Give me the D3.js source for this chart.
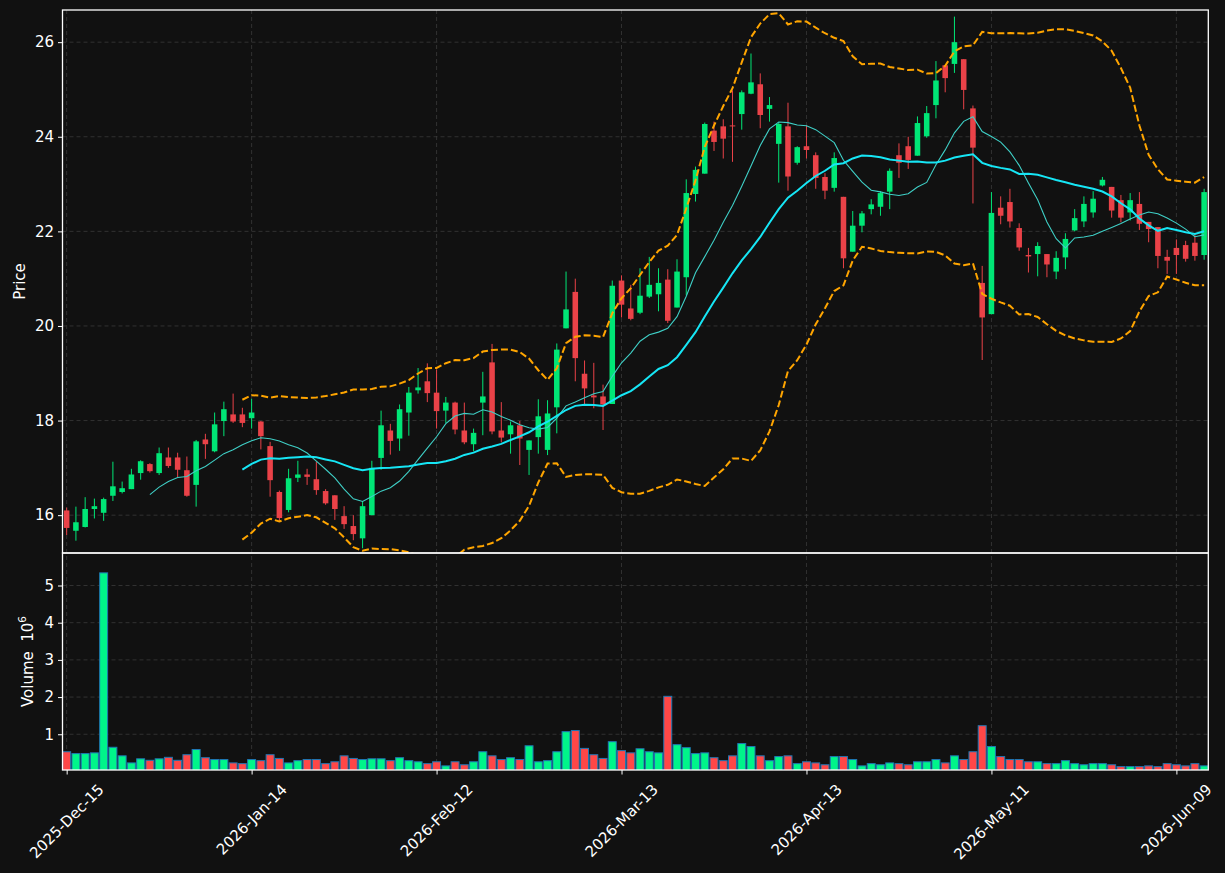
<!DOCTYPE html>
<html>
<head>
<meta charset="utf-8">
<script src="https://cdn.jsdelivr.net/npm/d3@7"></script>
<style>
  body { margin: 0; background: #111111; }
  svg { display: block; font-family: "DejaVu Sans", sans-serif; }
</style>
</head>
<body>
<div id="chart"></div>
<script>
// x tick labels, one every 20 sessions
const tickLabels = ['2025-Dec-15', '2026-Jan-14', '2026-Feb-12', '2026-Mar-13', '2026-Apr-13', '2026-May-11', '2026-Jun-09'];
const tickStep = 20;

const openP = [16.10,15.67,15.75,16.13,16.05,16.41,16.49,16.55,16.89,17.08,16.89,17.22,17.22,16.95,16.64,17.60,17.35,17.99,18.13,18.13,
  18.05,17.98,17.46,16.49,16.11,16.79,16.86,16.76,16.51,16.42,15.98,15.77,15.51,16.00,17.21,17.79,17.62,18.17,18.64,18.83,
  18.59,18.21,18.38,17.79,17.50,18.38,19.23,17.79,17.71,17.90,17.38,17.65,17.38,18.28,19.95,20.72,18.99,18.53,18.51,18.35,
  20.96,20.37,20.28,20.62,20.67,20.98,20.39,21.03,22.79,23.22,24.13,24.22,24.24,24.48,24.91,25.11,24.59,23.85,24.22,23.45,
  23.80,23.61,23.15,22.92,22.73,21.57,22.12,22.47,22.52,22.84,23.61,23.80,23.60,24.01,24.67,25.51,25.54,25.64,24.60,20.91,
  20.25,22.50,22.62,22.07,21.50,21.52,21.52,21.15,21.45,22.02,22.21,22.40,22.97,22.94,22.66,22.40,22.58,22.20,22.09,21.46,
  21.65,21.71,21.76,21.50];
const highP = [16.16,16.18,16.38,16.35,16.37,17.13,16.71,16.98,17.16,17.10,17.43,17.43,17.32,17.24,17.59,17.72,18.17,18.40,18.57,18.27,
  18.46,17.99,17.55,16.52,16.98,17.15,16.98,17.13,16.55,16.42,16.19,16.00,16.30,17.15,18.21,17.93,18.34,18.71,19.11,19.21,
  19.08,18.50,18.40,18.38,17.83,19.03,19.62,18.39,17.98,17.99,17.58,18.45,18.43,19.63,21.15,21.00,19.27,19.22,18.76,20.96,
  21.07,20.87,21.22,21.46,21.22,21.20,21.41,23.10,23.37,24.30,24.32,24.37,24.98,24.98,25.76,25.34,24.84,24.30,24.72,23.80,
  24.24,23.67,23.23,23.67,22.73,22.43,22.43,22.68,22.85,23.33,23.86,24.00,24.43,24.65,25.60,25.51,26.54,25.64,24.66,21.27,
  22.83,22.74,22.90,22.17,21.65,21.77,21.52,21.58,21.96,22.47,22.74,22.85,23.15,22.94,22.77,22.81,22.83,22.20,22.09,21.61,
  21.83,21.80,21.93,22.90];
const lowP = [15.58,15.46,15.74,15.93,15.88,16.30,16.46,16.55,16.75,16.90,16.85,17.00,16.80,16.39,16.18,17.19,17.33,17.67,17.95,17.86,
  17.83,17.39,16.39,15.87,16.06,16.70,16.64,16.43,16.22,15.90,15.71,15.47,15.30,16.00,16.96,17.28,17.36,17.68,18.57,18.39,
  17.83,17.95,17.71,17.50,17.35,17.69,17.71,17.54,17.30,17.06,16.85,17.30,17.27,17.73,19.95,18.83,18.34,18.26,17.80,18.35,
  20.18,20.12,20.25,20.59,20.31,20.06,20.39,20.65,22.63,23.22,23.70,23.54,23.47,24.15,24.90,24.18,24.32,23.03,22.86,23.41,
  23.54,22.90,22.68,22.84,21.22,21.57,21.98,22.36,22.33,22.47,23.13,23.32,23.60,23.98,24.39,24.94,25.35,24.58,22.59,19.28,
  20.25,22.15,22.08,21.59,21.13,21.05,21.03,20.99,21.20,22.00,22.09,22.29,22.95,22.29,22.19,22.23,22.03,21.77,21.22,21.10,
  21.10,21.36,21.38,21.40];
const closeP = [15.73,15.85,16.13,16.19,16.34,16.61,16.57,16.86,17.14,16.93,17.31,17.04,16.96,16.41,17.56,17.50,17.92,18.24,17.98,17.95,
  18.17,17.67,16.74,15.94,16.78,16.86,16.81,16.53,16.25,16.13,15.81,15.60,16.19,17.00,17.90,17.57,18.24,18.59,18.70,18.58,
  18.20,18.38,17.81,17.54,17.74,18.51,17.77,17.64,17.90,17.62,17.58,18.09,18.15,19.50,20.35,19.32,18.68,18.49,18.34,20.85,
  20.45,20.15,20.64,20.87,20.91,20.11,21.15,22.81,23.30,24.27,23.89,23.96,24.22,24.94,25.15,24.46,24.67,24.27,23.16,23.78,
  23.72,23.13,22.86,23.55,21.43,22.12,22.38,22.57,22.81,23.28,23.45,23.51,24.29,24.50,25.19,25.24,26.00,24.99,23.77,20.18,
  22.39,22.33,22.21,21.66,21.47,21.69,21.30,21.44,21.84,22.28,22.58,22.69,23.09,22.44,22.29,22.66,22.16,22.05,21.48,21.38,
  21.50,21.42,21.48,22.83];
// volume in millions
const volume = [0.53,0.48,0.48,0.50,5.34,0.65,0.42,0.23,0.34,0.30,0.34,0.38,0.30,0.45,0.59,0.37,0.32,0.32,0.23,0.21,
  0.32,0.29,0.45,0.35,0.23,0.29,0.32,0.32,0.21,0.26,0.42,0.35,0.32,0.34,0.34,0.29,0.37,0.29,0.26,0.21,
  0.26,0.15,0.26,0.18,0.26,0.53,0.42,0.32,0.37,0.32,0.69,0.26,0.29,0.53,1.07,1.10,0.62,0.45,0.35,0.80,
  0.56,0.50,0.61,0.53,0.50,2.02,0.72,0.64,0.48,0.50,0.37,0.29,0.42,0.75,0.67,0.42,0.29,0.40,0.42,0.21,
  0.26,0.23,0.18,0.40,0.40,0.32,0.15,0.21,0.18,0.23,0.21,0.18,0.26,0.26,0.32,0.23,0.42,0.32,0.53,1.23,
  0.67,0.40,0.32,0.32,0.26,0.26,0.21,0.21,0.29,0.21,0.18,0.21,0.21,0.18,0.13,0.13,0.13,0.15,0.13,0.21,
  0.18,0.15,0.21,0.15];

const priceTicks = [16, 18, 20, 22, 24, 26];
const volTicks = [1, 2, 3, 4, 5];

var width = 1225, height = 873;
var plotLeft = 62.5, plotRight = 1208.3;
var priceTop = 10, priceBottom = 553;
var volTop = 553, volBottom = 770;
var fontSize = 15;

var upColor = "#00e676", downColor = "#ea4248";
var volUp = "#00f58a", volDown = "#ff4747";
var gridColor = "#3a3a3a";

var n = closeP.length;
var idx = d3.range(n);

// rolling mean / std of the closes
function rolling(len) {
  return idx.map(function(i) {
    if (i < len - 1) return null;
    var w = closeP.slice(i - len + 1, i + 1);
    return { i: i, mean: d3.mean(w), sd: d3.deviation(w) };
  }).filter(d => d);
}
var ma10 = rolling(10);
var ma20 = rolling(20);

var svg = d3.select("#chart").append("svg")
  .attr("width", width)
  .attr("height", height);

svg.append("rect").attr("width", width).attr("height", height).attr("fill", "#111111");

var x = d3.scaleLinear().domain([-0.45, n - 0.55]).range([plotLeft, plotRight]);
var y = d3.scaleLinear().domain([15.2, 26.68]).range([priceBottom, priceTop]);
var yv = d3.scaleLinear().domain([0.3 * d3.min(volume), 1.1 * d3.max(volume)]).range([volBottom, volTop]);

var step = x(1) - x(0);

var defs = svg.append("defs");
defs.append("clipPath").attr("id", "clipPrice")
  .append("rect").attr("x", plotLeft).attr("y", priceTop)
  .attr("width", plotRight - plotLeft).attr("height", priceBottom - priceTop);
defs.append("clipPath").attr("id", "clipVol")
  .append("rect").attr("x", plotLeft).attr("y", volTop)
  .attr("width", plotRight - plotLeft).attr("height", volBottom - volTop);

var tickIdx = tickLabels.map((d, k) => k * tickStep);

// grid
var grid = svg.append("g").attr("stroke", gridColor).attr("stroke-width", 0.8).attr("stroke-dasharray", "4,3");
grid.selectAll(".vg").data(tickIdx).enter().append("line")
  .attr("x1", d => x(d)).attr("x2", d => x(d))
  .attr("y1", priceTop).attr("y2", volBottom);
grid.selectAll(".hp").data(priceTicks).enter().append("line")
  .attr("x1", plotLeft).attr("x2", plotRight)
  .attr("y1", d => y(d)).attr("y2", d => y(d));
grid.selectAll(".hv").data(volTicks).enter().append("line")
  .attr("x1", plotLeft).attr("x2", plotRight)
  .attr("y1", d => yv(d)).attr("y2", d => yv(d));

// candles
var pg = svg.append("g").attr("clip-path", "url(#clipPrice)");
var candles = pg.selectAll(".candle").data(idx).enter().append("g");
candles.append("line")
  .attr("x1", i => x(i)).attr("x2", i => x(i))
  .attr("y1", i => y(highP[i])).attr("y2", i => y(lowP[i]))
  .attr("stroke", i => closeP[i] >= openP[i] ? upColor : downColor)
  .attr("stroke-width", 1);
candles.append("rect")
  .attr("x", i => x(i) - step * 0.3)
  .attr("width", step * 0.6)
  .attr("y", i => y(Math.max(openP[i], closeP[i])))
  .attr("height", i => Math.max(1, Math.abs(y(openP[i]) - y(closeP[i]))))
  .attr("fill", i => closeP[i] >= openP[i] ? upColor : downColor);

// moving averages and bands
var lineMean = d3.line().x(d => x(d.i)).y(d => y(d.mean));
pg.append("path").datum(ma10).attr("d", lineMean)
  .attr("fill", "none").attr("stroke", "#3fcfc6").attr("stroke-width", 1.1);
pg.append("path").datum(ma20).attr("d", lineMean)
  .attr("fill", "none").attr("stroke", "#16e6f5").attr("stroke-width", 2);
pg.append("path").datum(ma20)
  .attr("d", d3.line().x(d => x(d.i)).y(d => y(d.mean + 2 * d.sd)))
  .attr("fill", "none").attr("stroke", "#ffa500").attr("stroke-width", 2).attr("stroke-dasharray", "7,3");
pg.append("path").datum(ma20)
  .attr("d", d3.line().x(d => x(d.i)).y(d => y(d.mean - 2 * d.sd)))
  .attr("fill", "none").attr("stroke", "#ffa500").attr("stroke-width", 2).attr("stroke-dasharray", "7,3");

// volume bars
var vg = svg.append("g").attr("clip-path", "url(#clipVol)");
vg.selectAll("rect").data(idx).enter().append("rect")
  .attr("x", i => x(i) - step * 0.43)
  .attr("width", step * 0.86)
  .attr("y", i => yv(volume[i]))
  .attr("height", i => volBottom + 2 - yv(volume[i]))
  .attr("fill", i => closeP[i] >= openP[i] ? volUp : volDown)
  .attr("stroke", "#1f77b4")
  .attr("stroke-width", 1);

// axes
function styleAxis(g) {
  g.select(".domain").remove();
  g.selectAll(".tick line").attr("stroke", "#ffffff");
  g.selectAll(".tick text").attr("fill", "#ffffff").attr("font-size", fontSize)
    .attr("font-family", '"DejaVu Sans", sans-serif');
}
svg.append("g").attr("transform", `translate(${plotLeft},0)`)
  .call(d3.axisLeft(y).tickValues(priceTicks).tickSize(4.5).tickPadding(4).tickFormat(d3.format("d")))
  .call(styleAxis);
svg.append("g").attr("transform", `translate(${plotLeft},0)`)
  .call(d3.axisLeft(yv).tickValues(volTicks).tickSize(4.5).tickPadding(4).tickFormat(d3.format("d")))
  .call(styleAxis);

svg.append("g").attr("transform", `translate(0,${volBottom})`)
  .call(d3.axisBottom(x).tickValues(tickIdx).tickSize(4.5).tickFormat(""))
  .call(styleAxis);

// rotated date labels, centred under the tick like matplotlib
var lab = svg.append("g").attr("fill", "#ffffff").attr("font-size", fontSize);
tickIdx.forEach(function(t, k) {
  var txt = lab.append("text").text(tickLabels[k]).attr("text-anchor", "middle").attr("dy", "0.35em");
  var L = txt.node().getComputedTextLength();
  var H = (L + 11) * Math.SQRT1_2;
  txt.attr("transform", `translate(${x(t)},${volBottom + 13 + H / 2}) rotate(-45)`);
});

// frames
var frame = svg.append("g").attr("fill", "none").attr("stroke", "#ffffff").attr("stroke-width", 1.3);
frame.append("rect").attr("x", plotLeft).attr("y", priceTop)
  .attr("width", plotRight - plotLeft).attr("height", priceBottom - priceTop);
frame.append("rect").attr("x", plotLeft).attr("y", volTop)
  .attr("width", plotRight - plotLeft).attr("height", volBottom - volTop);

// axis titles
svg.append("text")
  .attr("transform", `translate(25,${(priceTop + priceBottom) / 2}) rotate(-90)`)
  .attr("text-anchor", "middle").attr("fill", "#ffffff").attr("font-size", fontSize)
  .text("Price");
var vt = svg.append("text")
  .attr("transform", `translate(33,${(volTop + volBottom) / 2}) rotate(-90)`)
  .attr("text-anchor", "middle").attr("fill", "#ffffff").attr("font-size", fontSize)
  .attr("xml:space", "preserve");
vt.append("tspan").text("Volume\u00a0\u00a010");
vt.append("tspan").attr("font-size", 10.5).attr("dy", -7).text("6");
</script>
</body>
</html>
